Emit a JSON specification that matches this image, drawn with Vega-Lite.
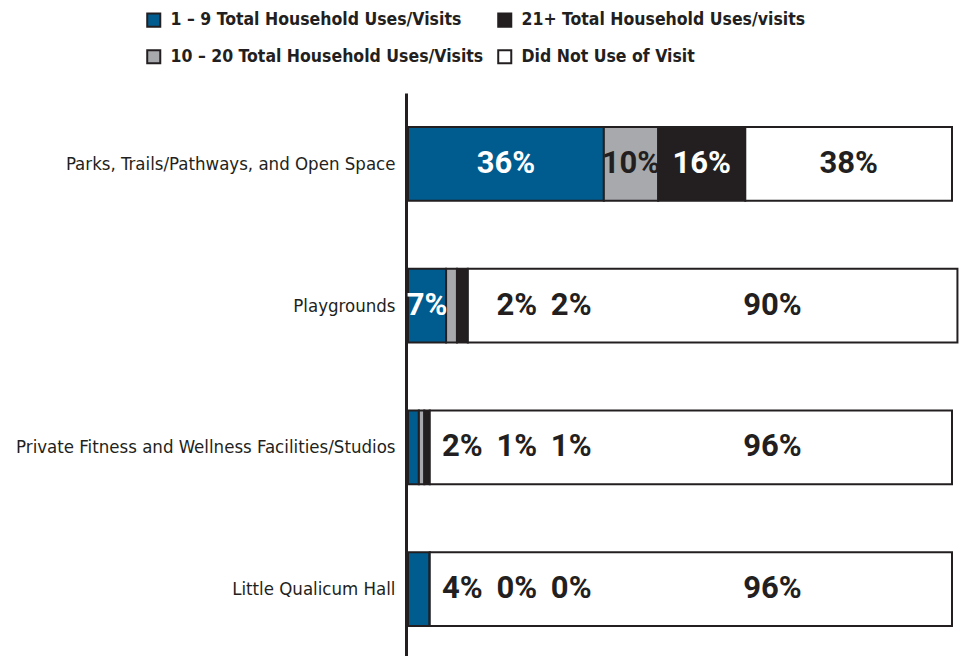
{
  "$schema": "https://vega.github.io/schema/vega-lite/v6.json",
  "autosize": {"type": "none"},
  "width": 544,
  "height": 567,
  "padding": {"left": 408, "top": 93, "right": 9, "bottom": 0},
  "background": "white",
  "config": {"view": {"stroke": null}, "font": "DejaVu Sans Condensed, Roboto, sans-serif"},
  "data": {
    "values": [
      {"facility": "Parks, Trails/Pathways, and Open Space", "category": "1 – 9 Total Household Uses/Visits", "order": 1, "value": 36},
      {"facility": "Parks, Trails/Pathways, and Open Space", "category": "10 – 20 Total Household Uses/Visits", "order": 2, "value": 10},
      {"facility": "Parks, Trails/Pathways, and Open Space", "category": "21+ Total Household Uses/visits", "order": 3, "value": 16},
      {"facility": "Parks, Trails/Pathways, and Open Space", "category": "Did Not Use of Visit", "order": 4, "value": 38},
      {"facility": "Playgrounds", "category": "1 – 9 Total Household Uses/Visits", "order": 1, "value": 7},
      {"facility": "Playgrounds", "category": "10 – 20 Total Household Uses/Visits", "order": 2, "value": 2},
      {"facility": "Playgrounds", "category": "21+ Total Household Uses/visits", "order": 3, "value": 2},
      {"facility": "Playgrounds", "category": "Did Not Use of Visit", "order": 4, "value": 90},
      {"facility": "Private Fitness and Wellness Facilities/Studios", "category": "1 – 9 Total Household Uses/Visits", "order": 1, "value": 2},
      {"facility": "Private Fitness and Wellness Facilities/Studios", "category": "10 – 20 Total Household Uses/Visits", "order": 2, "value": 1},
      {"facility": "Private Fitness and Wellness Facilities/Studios", "category": "21+ Total Household Uses/visits", "order": 3, "value": 1},
      {"facility": "Private Fitness and Wellness Facilities/Studios", "category": "Did Not Use of Visit", "order": 4, "value": 96},
      {"facility": "Little Qualicum Hall", "category": "1 – 9 Total Household Uses/Visits", "order": 1, "value": 4},
      {"facility": "Little Qualicum Hall", "category": "10 – 20 Total Household Uses/Visits", "order": 2, "value": 0},
      {"facility": "Little Qualicum Hall", "category": "21+ Total Household Uses/visits", "order": 3, "value": 0},
      {"facility": "Little Qualicum Hall", "category": "Did Not Use of Visit", "order": 4, "value": 96}
    ]
  },
  "transform": [
    {"stack": "value", "groupby": ["facility"], "sort": [{"field": "order", "order": "ascending"}], "as": ["start", "end"]},
    {"calculate": "datum.category == 'Did Not Use of Visit' ? max((datum.start + datum.end) / 2, 67) : (datum.value >= 5 ? (datum.start + datum.end) / 2 : datum.order * 10)", "as": "labelX"},
    {"calculate": "datum.value + '%'", "as": "label"}
  ],
  "encoding": {
    "y": {
      "field": "facility",
      "type": "nominal",
      "sort": ["Parks, Trails/Pathways, and Open Space", "Playgrounds", "Private Fitness and Wellness Facilities/Studios", "Little Qualicum Hall"],
      "scale": {"paddingInner": 0.48, "paddingOuter": 0.24},
      "axis": {
        "title": null,
        "ticks": false,
        "domain": true,
        "domainColor": "#231f20",
        "domainWidth": 3,
        "offset": 2,
        "labelFontSize": 18.5,
        "labelColor": "#231f20",
        "labelPadding": 11,
        "labelLimit": 420,
        "labelFont": "DejaVu Sans Condensed, Roboto, sans-serif"
      }
    }
  },
  "layer": [
    {
      "mark": {"type": "bar", "stroke": "#231f20", "strokeWidth": 2},
      "encoding": {
        "x": {"field": "start", "type": "quantitative", "scale": {"domain": [0, 100], "nice": false}, "axis": null},
        "x2": {"field": "end"},
        "color": {
          "field": "category",
          "type": "nominal",
          "scale": {
            "domain": ["1 – 9 Total Household Uses/Visits", "21+ Total Household Uses/visits", "10 – 20 Total Household Uses/Visits", "Did Not Use of Visit"],
            "range": ["#005b8f", "#231f20", "#a7a9ac", "#ffffff"]
          },
          "legend": {
            "title": null,
            "orient": "none",
            "legendX": -263,
            "legendY": -82,
            "columns": 2,
            "direction": "horizontal",
            "symbolType": "square",
            "symbolSize": 170,
            "symbolStrokeColor": "#231f20",
            "symbolStrokeWidth": 2,
            "symbolOpacity": 1,
            "labelFont": "DejaVu Sans Condensed, Roboto, sans-serif",
            "labelFontSize": 17.5,
            "labelFontWeight": "bold",
            "labelColor": "#231f20",
            "labelLimit": 400,
            "labelOffset": 8,
            "columnPadding": 10,
            "rowPadding": 15
          }
        }
      }
    },
    {
      "mark": {"type": "text", "font": "Roboto", "fontSize": 31, "fontWeight": "bold", "align": "center", "baseline": "middle"},
      "encoding": {
        "x": {"field": "labelX", "type": "quantitative"},
        "text": {"field": "label", "type": "nominal"},
        "color": {
          "condition": {"test": "(datum.order == 1 || datum.order == 3) && datum.value >= 5", "value": "#ffffff"},
          "value": "#231f20"
        }
      }
    }
  ]
}
